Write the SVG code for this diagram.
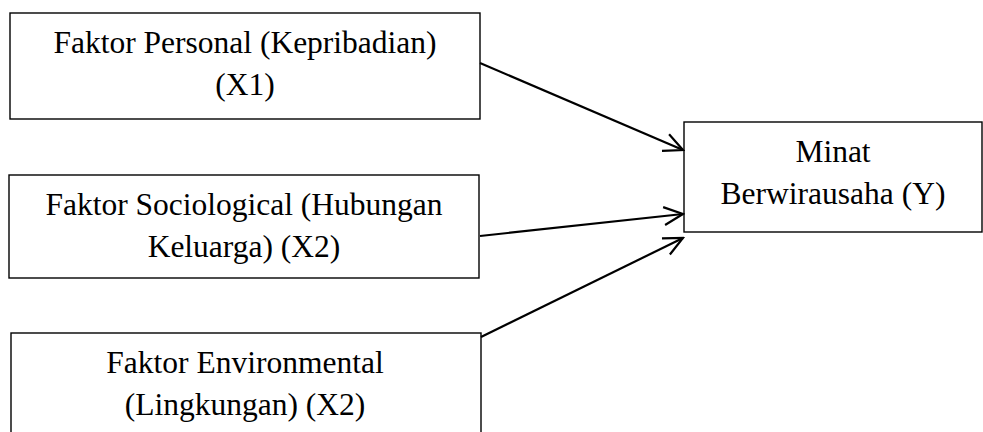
<svg xmlns="http://www.w3.org/2000/svg" width="983" height="432" viewBox="0 0 983 432">
<defs>
<style>
.box{fill:#fff;stroke:#000;stroke-width:1.4}
.t{font-family:"Liberation Serif","Times New Roman",serif;font-size:31.5px;fill:#000;text-anchor:middle}
.c{fill:none;stroke:#000;stroke-width:2.2}
</style>
<marker id="ah" markerUnits="userSpaceOnUse" viewBox="-22 -12 24 24" refX="0" refY="0" markerWidth="24" markerHeight="24" orient="auto">
<path d="M-19,-9 L0,0 L-19,9" fill="none" stroke="#000" stroke-width="2.2"/>
</marker>
</defs>
<rect width="983" height="432" fill="#fff"/>
<g id="n1">
<rect class="box" x="10" y="13" width="470" height="106"/>
<text class="t" x="245" y="53">Faktor Personal (Kepribadian)</text>
<text class="t" x="245" y="95">(X1)</text>
</g>
<g id="n2">
<rect class="box" x="9" y="175" width="470" height="103"/>
<text class="t" x="244" y="215">Faktor Sociological (Hubungan</text>
<text class="t" x="244" y="257">Keluarga) (X2)</text>
</g>
<g id="n3">
<rect class="box" x="11" y="333" width="470" height="110"/>
<text class="t" x="245" y="373">Faktor Environmental</text>
<text class="t" x="245" y="415">(Lingkungan) (X2)</text>
</g>
<g id="n4">
<rect class="box" x="684" y="122" width="298" height="110"/>
<text class="t" x="833" y="162">Minat</text>
<text class="t" x="833" y="204">Berwirausaha (Y)</text>
</g>
<g id="connectors">
<line class="c" x1="480" y1="63" x2="683" y2="150" marker-end="url(#ah)"/>
<line class="c" x1="480" y1="236" x2="683" y2="214" marker-end="url(#ah)"/>
<line class="c" x1="481" y1="337" x2="683" y2="238" marker-end="url(#ah)"/>
</g>
</svg>
